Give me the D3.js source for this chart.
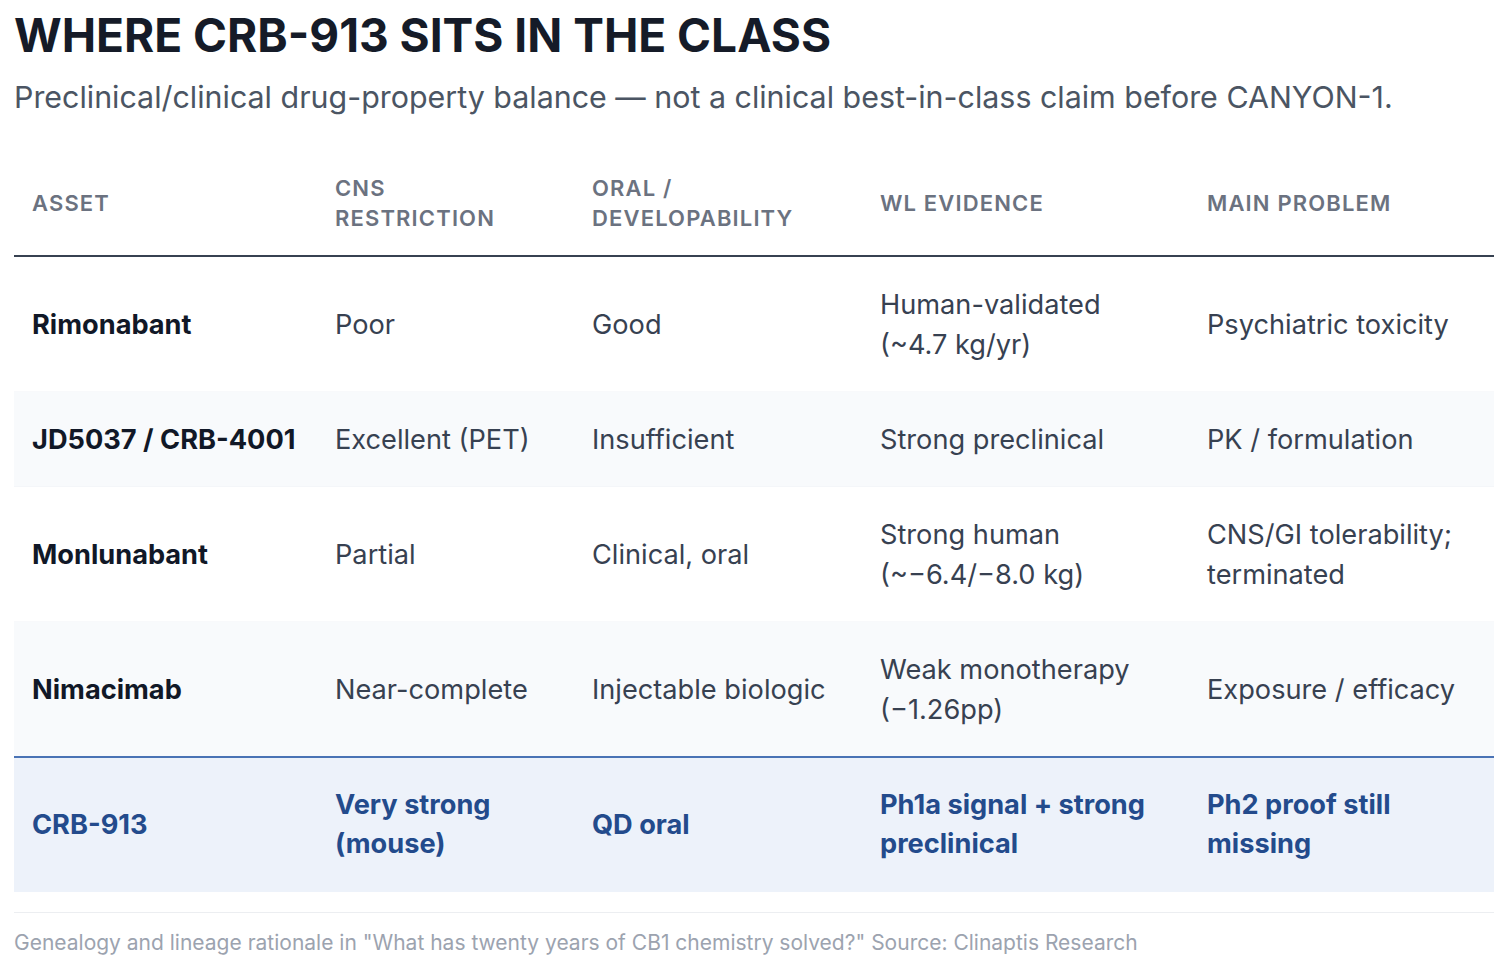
<!DOCTYPE html>
<html><head><meta charset="utf-8">
<script src="https://cdn.jsdelivr.net/npm/d3@7"></script>
<style>
html,body{margin:0;padding:0;background:#fff;}
svg text{font-family:Inter,"Noto Sans",sans-serif;}
</style></head>
<body><svg id="c" width="1506" height="962"></svg>
<script>
const title = "WHERE CRB-913 SITS IN THE CLASS";
const subtitle = "Preclinical/clinical drug-property balance \u2014 not a clinical best-in-class claim before CANYON-1.";
const footnote = "Genealogy and lineage rationale in \"What has twenty years of CB1 chemistry solved?\" Source: Clinaptis Research";
const headers = ["ASSET", "CNS RESTRICTION", "ORAL / DEVELOPABILITY", "WL EVIDENCE", "MAIN PROBLEM"];
const assets = ["Rimonabant", "JD5037 / CRB-4001", "Monlunabant", "Nimacimab", "CRB-913"];
const cnsRestriction = ["Poor", "Excellent (PET)", "Partial", "Near-complete", "Very strong (mouse)"];
const oralDevelopability = ["Good", "Insufficient", "Clinical, oral", "Injectable biologic", "QD oral"];
const wlEvidence = ["Human-validated (~4.7 kg/yr)", "Strong preclinical", "Strong human (~\u22126.4/\u22128.0 kg)", "Weak monotherapy (\u22121.26pp)", "Ph1a signal + strong preclinical"];
const mainProblem = ["Psychiatric toxicity", "PK / formulation", "CNS/GI tolerability; terminated", "Exposure / efficacy", "Ph2 proof still missing"];
const highlightAsset = "CRB-913";

const svg = d3.select("#c");
const left = 14, right = 1494;
const colEdges = [14, 317, 574, 862, 1189, 1494];
const wrapWidths = [267, 221, 252, 282, 262];
const pad = 18;
const x = d3.scaleOrdinal().domain(d3.range(5)).range(colEdges.slice(0,5));

svg.append("text").attr("x", left).attr("y", 52).attr("font-size", 46).attr("font-weight", 700)
  .attr("fill", "#151b28").text(title);
svg.append("text").attr("x", left).attr("y", 108).attr("font-size", 30.4).attr("font-weight", 400)
  .attr("fill", "#4b5563").text(subtitle);

const meas = svg.append("text").attr("x", -1000).attr("y", -1000);
function wrap(str, width, size, weight, ls) {
  meas.attr("font-size", size).attr("font-weight", weight).attr("letter-spacing", ls || 0);
  const words = str.split(" ");
  const lines = [];
  let cur = "";
  for (const w of words) {
    const t = cur ? cur + " " + w : w;
    meas.text(t);
    if (meas.node().getComputedTextLength() > width && cur) { lines.push(cur); cur = w; }
    else cur = t;
  }
  if (cur) lines.push(cur);
  return lines;
}

// header
const headTop = 150, headBot = 256;
const hg = svg.append("g");
headers.forEach((h, i) => {
  const lines = wrap(h, 205, 22, 600, 1.2);
  const lh = 30, cy = (headTop + headBot) / 2;
  const t = hg.append("text").attr("font-size", 22).attr("font-weight", 600).attr("letter-spacing", 1.15)
    .attr("fill", "#6b7280");
  lines.forEach((ln, k) => {
    t.append("tspan").attr("x", x(i) + pad)
      .attr("y", cy + (k - (lines.length-1)/2) * lh + 8).text(ln);
  });
});
svg.append("line").attr("x1", left).attr("x2", right).attr("y1", headBot).attr("y2", headBot)
  .attr("stroke", "#374151").attr("stroke-width", 2);

// rows
const rows = assets.map((a, i) => [a, cnsRestriction[i], oralDevelopability[i], wlEvidence[i], mainProblem[i]]);
let y = headBot + 1;
rows.forEach((r, ri) => {
  const hl = r[0] === highlightAsset;
  const size = 27.2, lh = hl ? 38.5 : 40;
  const wrapped = r.map((c, ci) => wrap(c, wrapWidths[ci], size, (ci === 0 || hl) ? 700 : 400));
  const n = d3.max(wrapped, d => d.length);
  const h = 55 + n * 40;
  const g = svg.append("g");
  const bg = hl ? "#edf2fa" : (ri % 2 === 1 ? "#f8fafc" : "#ffffff");
  g.append("rect").attr("x", left).attr("y", y).attr("width", right - left).attr("height", h).attr("fill", bg);
  if (hl) {
    g.append("line").attr("x1", left).attr("x2", right).attr("y1", y).attr("y2", y)
      .attr("stroke", "#4a73b5").attr("stroke-width", 2);
  } else {
    g.append("line").attr("x1", left).attr("x2", right).attr("y1", y + h).attr("y2", y + h)
      .attr("stroke", "#f1f3f6").attr("stroke-width", 1);
  }
  const cy = y + h / 2;
  wrapped.forEach((lines, ci) => {
    const t = g.append("text").attr("font-size", size)
      .attr("font-weight", (ci === 0 || hl) ? 700 : 400)
      .attr("fill", hl ? "#234b8c" : (ci === 0 ? "#111827" : "#374151"));
    lines.forEach((ln, k) => {
      t.append("tspan").attr("x", x(ci) + pad)
        .attr("y", cy + (k - (lines.length-1)/2) * lh + 9).text(ln);
    });
  });
  y += h;
});

svg.append("line").attr("x1", left).attr("x2", right).attr("y1", 912.5).attr("y2", 912.5)
  .attr("stroke", "#eceef1").attr("stroke-width", 1);
svg.append("text").attr("x", left).attr("y", 950).attr("font-size", 21).attr("fill", "#9ca3af").text(footnote);
meas.remove();
</script></body></html>
